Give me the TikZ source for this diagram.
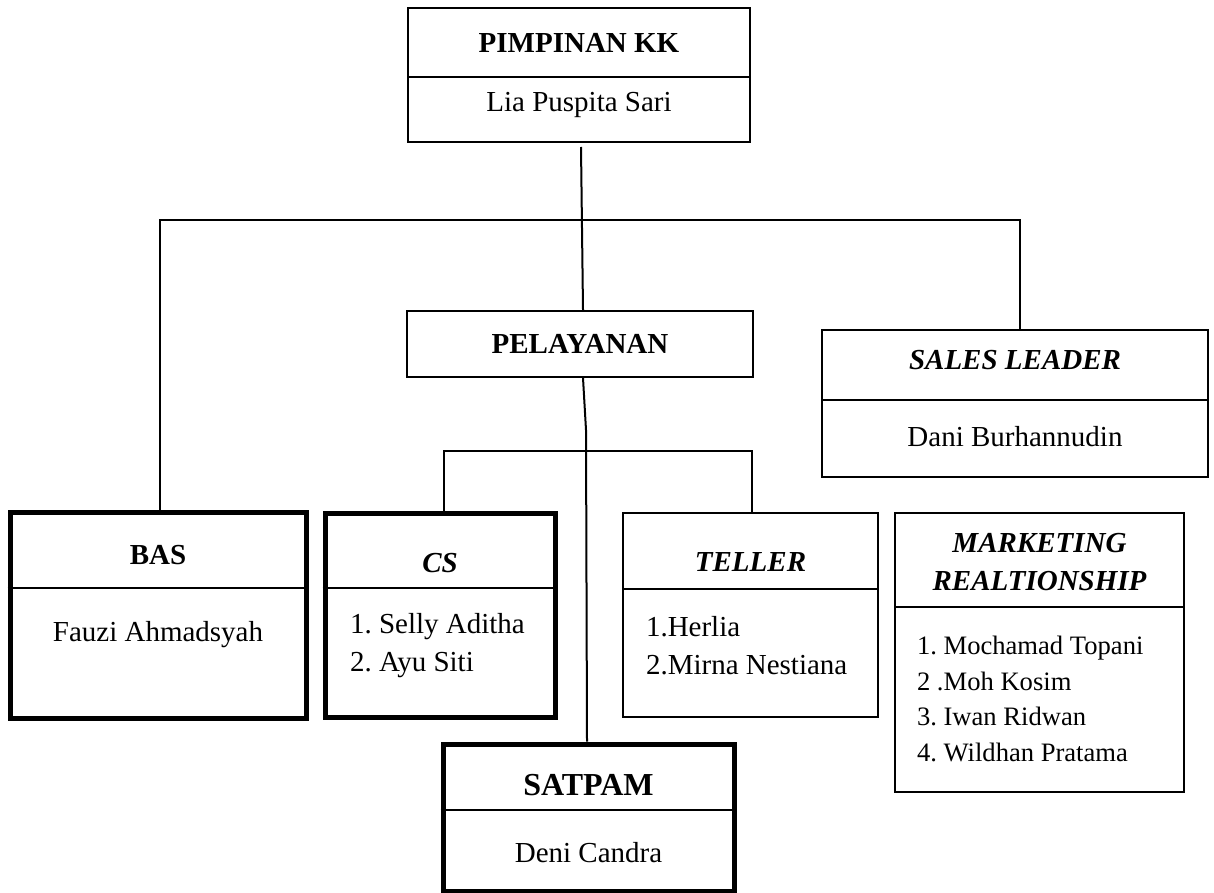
\documentclass[tikz,border=0pt]{standalone}
\usepackage{fontspec}
\setmainfont{Liberation Serif}
\frenchspacing
\newcommand{\bodysize}{\fontsize{14.5}{19}\selectfont}
\newcommand{\mrsize}{\fontsize{13.3}{17.7}\selectfont}

\begin{document}
\begin{tikzpicture}[x=0.5pt,y=-0.5pt,line width=1pt,
unitbox/.style={draw,line width=1pt,inner sep=0pt},
thickbox/.style={unitbox,line width=2.5pt},
head/.style={inner sep=0pt,font=\bodysize\bfseries},
ihead/.style={inner sep=0pt,font=\bodysize\bfseries\itshape},
person/.style={inner sep=0pt,font=\bodysize},
staff/.style={inner sep=0pt,anchor=west,align=left,font=\bodysize}]
\useasboundingbox (0,0) rectangle (1214,893);

\node[unitbox,minimum width=171pt,minimum height=67pt] (pimpinan) at (579,75) {};
\node[head] (pimpinanT) at (579,43) {PIMPINAN KK};
\node[person] (pimpinanN) at (579,105) {Lia Puspita Sari};
\draw (pimpinan.west |- 0,77) -- (pimpinan.east |- 0,77);

\node[unitbox,minimum width=173pt,minimum height=33pt] (pelayanan) at (580,344) {};
\node[head] (pelayananT) at (580,344) {PELAYANAN};

\node[unitbox,minimum width=193pt,minimum height=73.5pt] (sales) at (1015,403.5) {};
\node[ihead] (salesT) at (1015,360) {SALES LEADER};
\node[person] (salesN) at (1015,437) {Dani Burhannudin};
\draw (sales.west |- 0,400) -- (sales.east |- 0,400);

\node[thickbox,minimum width=148pt,minimum height=103pt] (bas) at (158,615) {};
\node[head] (basT) at (158,555) {BAS};
\node[person] (basN) at (158,635) {Fauzi Ahmadsyah};
\draw (bas.west |- 0,588) -- (bas.east |- 0,588);

\node[thickbox,minimum width=115pt,minimum height=102pt] (cs) at (440,615) {};
\node[ihead] (csT) at (440,563) {CS};
\node[staff] (csL) at (349,646) {1. Selly Aditha\\2. Ayu Siti};
\draw (cs.west |- 0,588) -- (cs.east |- 0,588);

\node[unitbox,minimum width=127.5pt,minimum height=102pt] (teller) at (750.5,615) {};
\node[ihead] (tellerT) at (750.5,562) {TELLER};
\node[staff] (tellerL) at (645,646) {1.Herlia\\2.Mirna Nestiana};
\draw (teller.west |- 0,589) -- (teller.east |- 0,589);

\node[unitbox,minimum width=144.5pt,minimum height=139.5pt] (marketing) at (1039.5,652.5) {};
\node[ihead,align=center] (marketingT) at (1039.5,562) {MARKETING\\REALTIONSHIP};
\node[staff,font=\mrsize] (marketingL) at (916,699) {1. Mochamad Topani\\2 .Moh Kosim\\3. Iwan Ridwan\\4. Wildhan Pratama};
\draw (marketing.west |- 0,607) -- (marketing.east |- 0,607);

\node[thickbox,minimum width=145.5pt,minimum height=73.5pt] (satpam) at (588.5,817.5) {};
\node[head,font=\fontsize{16}{19}\selectfont\bfseries] (satpamT) at (588.5,785) {SATPAM};
\node[person] (satpamN) at (588.5,853) {Deni Candra};
\draw (satpam.west |- 0,810) -- (satpam.east |- 0,810);

\coordinate (top) at (581,147);
\coordinate (barL) at (160,220);
\coordinate (barR) at (1020,220);
\coordinate (mid) at (586,430);
\coordinate (subL) at (444,451);
\coordinate (subR) at (752,451);

\draw (top) -- (pelayanan.north -| 583,0);
\draw (bas.north -| barL) -- (barL) -- (barR) -- (sales.north -| barR);
\draw (pelayanan.south -| 583,0) -- (mid) -- (satpam.north -| 587,0);
\draw (cs.north -| subL) -- (subL) -- (subR) -- (teller.north -| subR);
\end{tikzpicture}
\end{document}
